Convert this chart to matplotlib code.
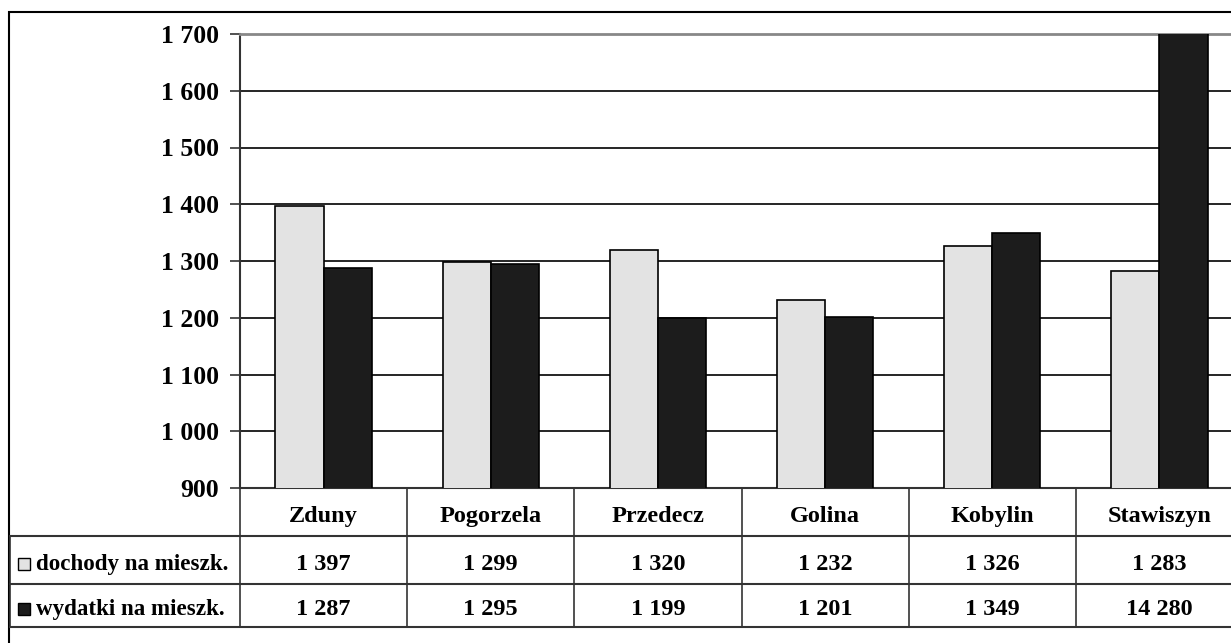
import numpy as np
import matplotlib.pyplot as plt
from matplotlib.patches import Rectangle
from matplotlib.lines import Line2D

# Data
gminy = ['Zduny', 'Pogorzela', 'Przedecz', 'Golina', 'Kobylin', 'Stawiszyn']
dochody = [1397, 1299, 1320, 1232, 1326, 1283]
wydatki = [1287, 1295, 1199, 1201, 1349, 14280]
series_names = ['dochody na mieszk.', 'wydatki na mieszk.']
yticks = [900, 1000, 1100, 1200, 1300, 1400, 1500, 1600, 1700]

light = '#e3e3e3'
dark = '#1c1c1c'
font = 'Liberation Serif'

W, H = 1231, 643
fig = plt.figure(figsize=(W / 100, H / 100), dpi=100)

def fx(x):
    return x / W

def fy(y):
    return 1 - y / H

def fmt(v):
    return '{:,}'.format(v).replace(',', ' ')

# plot area in pixels
left, right, top, bottom = 240, 1243, 34, 488
ax = fig.add_axes([fx(left), fy(bottom), fx(right - left), (bottom - top) / H])

x = np.arange(len(gminy))
bw = 0.288
ax.bar(x - bw / 2, dochody, bw, color=light, edgecolor='black', linewidth=1.2, zorder=3)
ax.bar(x + bw / 2, wydatki, bw, color=dark, edgecolor='black', linewidth=1.2, zorder=3)

ax.set_xlim(-0.5, len(gminy) - 0.5)
ax.set_ylim(900, 1700)
ax.set_yticks(yticks)
ax.set_yticklabels([fmt(v) for v in yticks], fontfamily=font, fontweight='bold', fontsize=18.5)
ax.tick_params(axis='y', direction='out', length=7, width=1.2, color='#333333', pad=8)
ax.set_xticks([])
for v in yticks[1:-1]:
    ax.axhline(v, color='black', linewidth=1.2, zorder=1)
ax.spines['right'].set_visible(False)
ax.spines['bottom'].set_color('#333333')
ax.spines['bottom'].set_linewidth(1.5)
ax.spines['top'].set_color('#888888')
ax.spines['top'].set_linewidth(2)
ax.spines['left'].set_color('#333333')
ax.spines['left'].set_linewidth(1.5)

# data table below the plot
tkw = dict(fontfamily=font, fontweight='bold', ha='center', va='baseline', fontsize=17.5)
line_c = '#333333'

def hline(y, x0, x1):
    fig.add_artist(Line2D([fx(x0), fx(x1)], [fy(y), fy(y)], color=line_c, lw=1.5))

def vline(x0, y0, y1):
    fig.add_artist(Line2D([fx(x0), fx(x0)], [fy(y0), fy(y1)], color=line_c, lw=1.2))

hline(536, 10, 1243)
hline(584, 10, 1243)
hline(627, 10, 1243)
vline(10, 536, 627)
vline(240, 488, 627)
colw = (right - left) / len(gminy)
for i in range(1, len(gminy)):
    vline(left + i * colw, 488, 627)

for i, g in enumerate(gminy):
    cx = left + (i + 0.5) * colw
    fig.text(fx(cx), fy(522), g, **tkw)
    fig.text(fx(cx), fy(570), fmt(dochody[i]), **tkw)
    fig.text(fx(cx), fy(615), fmt(wydatki[i]), **tkw)

for name, col, base in zip(series_names, [light, dark], [570, 615]):
    fig.add_artist(Rectangle((fx(18), fy(base)), fx(12), 12 / H, facecolor=col,
                             edgecolor='black', linewidth=1))
    fig.text(fx(36), fy(base), name, fontsize=16.6, fontfamily=font, fontweight='bold',
             ha='left', va='baseline')

# outer chart border
fig.add_artist(Rectangle((fx(9), fy(660)), fx(1240), 648 / H, fill=False,
                         edgecolor='black', linewidth=1.5))

plt.savefig('out.png', dpi=100)
